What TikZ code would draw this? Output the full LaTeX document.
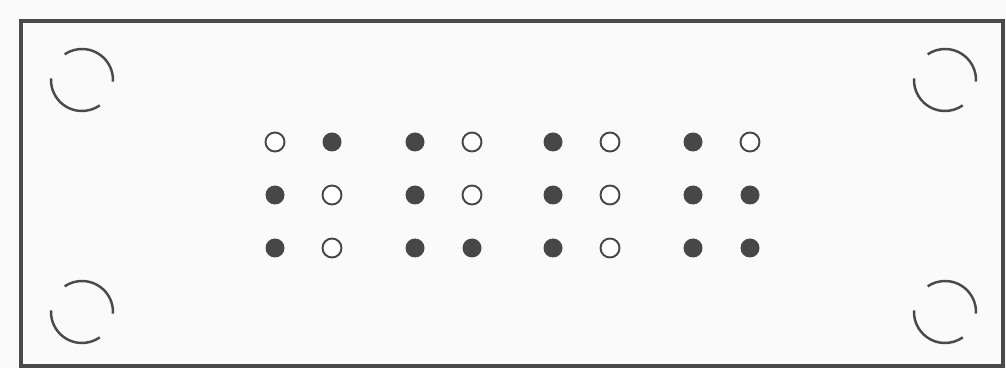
\documentclass[tikz,border=0pt]{standalone}
\usepackage{tikz}
\definecolor{PlateLine}{HTML}{4A4A4A}
\definecolor{DotFill}{HTML}{474747}
\definecolor{PaperBg}{HTML}{FAFAFA}
\tikzset{
  dot 1/.style={fill=DotFill},
  dot 0/.style={draw=DotFill, line width=1.1pt, fill=white},
}

\begin{document}
\begin{tikzpicture}[x=0.02cm, y=0.02cm]
  \useasboundingbox (0,0) rectangle (1006,368);
  \fill[PaperBg] (0,0) rectangle (1006,368);

  %% Plate outline
  \draw[PlateLine, line width=2.2pt] (21,2) rectangle (1003,347);

  %% Corner holes (two arcs each)
  \def\rH{0.62cm}
  \foreach \hx/\hy in {82/288, 945/288, 82/56, 945/56}{
    \draw[PlateLine, line width=1.4pt]
      (\hx,\hy) ++(177:\rH) arc[start angle=177, end angle=305, radius=\rH];
    \draw[PlateLine, line width=1.4pt]
      (\hx,\hy) ++(-3:\rH) arc[start angle=-3, end angle=124, radius=\rH];
  }

  %% Dot grid: per column, top/middle/bottom (1 = filled)
  \def\rD{0.19cm}
  \foreach \cx/\a/\b/\c in {
    275/0/1/1, 332/1/0/0,
    415/1/1/1, 472/0/0/1,
    553/1/1/1, 610/0/0/0,
    693/1/1/1, 750/0/1/1}{
    \path[dot \a] (\cx,226) circle (\rD);
    \path[dot \b] (\cx,173) circle (\rD);
    \path[dot \c] (\cx,120) circle (\rD);
  }

\end{tikzpicture}
\end{document}
